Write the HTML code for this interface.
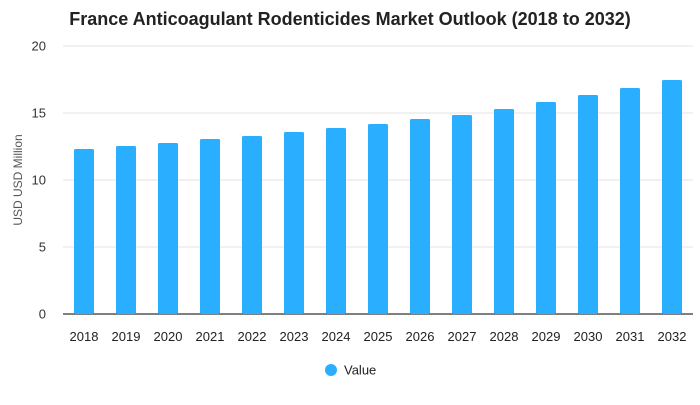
<!DOCTYPE html>
<html><head><meta charset="utf-8"><style>
body{margin:0;background:#fff;font-family:"Liberation Sans",Arial,sans-serif}
svg text{font-family:"Liberation Sans",Arial,sans-serif}
</style></head><body>
<svg width="700" height="400" viewBox="0 0 700 400">
<text x="350" y="25" text-anchor="middle" font-size="18" font-weight="bold" fill="#222">France Anticoagulant Rodenticides Market Outlook (2018 to 2032)</text>
<g id="grid"></g><g id="bars"></g><g id="xlabels"></g>
<text transform="translate(22,180) rotate(-90)" text-anchor="middle" font-size="12" fill="#555">USD USD Million</text>
<g>
<circle cx="331" cy="370" r="6" fill="#2aaeff"/>
<text x="344" y="374.5" font-size="13" fill="#222">Value</text>
</g>
</svg>
<script>
const categories=["2018","2019","2020","2021","2022","2023","2024","2025","2026","2027","2028","2029","2030","2031","2032"];
const values=[12.31,12.54,12.76,13.06,13.28,13.58,13.88,14.18,14.55,14.85,15.3,15.82,16.34,16.87,17.46];
const yTicks=[0,5,10,15,20];
const NS="http://www.w3.org/2000/svg";
const x0=63,x1=693,yTop=46,yBot=314,yMax=20;
const y=v=>yBot-(v/yMax)*(yBot-yTop);
const band=(x1-x0)/categories.length;
const xc=i=>x0+band*(i+0.5);
const grid=document.getElementById('grid');
yTicks.forEach(t=>{
 const l=document.createElementNS(NS,'line');
 l.setAttribute('x1',x0);l.setAttribute('x2',x1);l.setAttribute('y1',y(t));l.setAttribute('y2',y(t));
 l.setAttribute('stroke',t===0?'#333':'#e3e3e3');l.setAttribute('stroke-width',t===0?1.2:1);
 
 
 grid.appendChild(l);
 const tx=document.createElementNS(NS,'text');
 tx.setAttribute('x',46);tx.setAttribute('y',y(t)+4.5);tx.setAttribute('text-anchor','end');tx.setAttribute('font-size','13');tx.setAttribute('fill','#333');
 tx.textContent=t;
 
 
 grid.appendChild(tx);
});
const bars=document.getElementById('bars'),xl=document.getElementById('xlabels');
values.forEach((v,i)=>{
 const r=document.createElementNS(NS,'rect');
 const w=20;
 r.setAttribute('x',xc(i)-w/2);r.setAttribute('y',y(v));r.setAttribute('width',w);r.setAttribute('height',yBot-y(v));
 r.setAttribute('fill','#2aaeff');r.setAttribute('rx','1.5');
 
 
 bars.appendChild(r);
 const t=document.createElementNS(NS,'text');
 t.setAttribute('x',xc(i));t.setAttribute('y',341);t.setAttribute('text-anchor','middle');t.setAttribute('font-size','13');t.setAttribute('fill','#222');
 t.textContent=categories[i];
 
 
 xl.appendChild(t);
});
</script>
</body></html>
